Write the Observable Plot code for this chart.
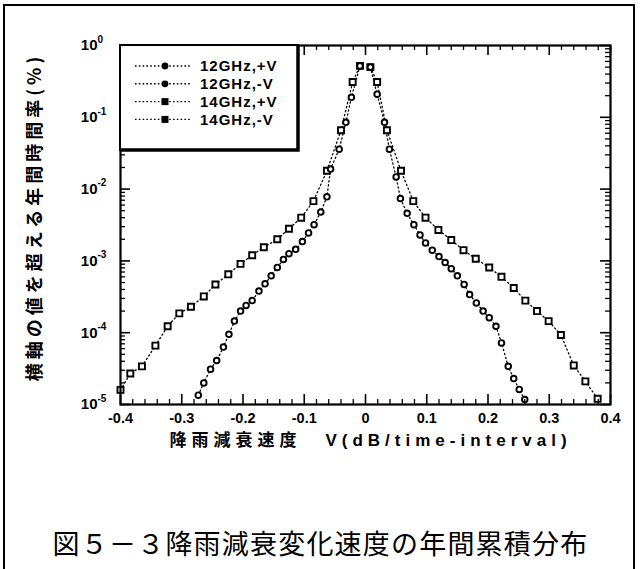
<!DOCTYPE html>
<html>
<head>
<meta charset="utf-8">
<script src="https://cdn.jsdelivr.net/npm/d3@7"></script>
<script src="https://cdn.jsdelivr.net/npm/@observablehq/plot@0.6"></script>
<style>
  html, body { margin: 0; padding: 0; background: #fff; }
  #wrap { position: relative; width: 641px; height: 569px; overflow: hidden; background: #fff; }
  #chart { position: absolute; left: 0; top: 0; }
  #border { position: absolute; left: 3px; top: 4px; width: 628px; height: 620px; border: 2px solid #000; pointer-events: none; }
  #caption { position: absolute; left: 0; top: 525px; width: 641px; text-align: center;
             font-family: "Noto Sans CJK JP", sans-serif; font-size: 27px; letter-spacing: 1.2px; line-height: 36px; color: #000; }
</style>
</head>
<body>
<div id="wrap">
  <div id="chart"></div>
  <div id="border"></div>
  <div id="caption">図５－３降雨減衰変化速度の年間累積分布</div>
</div>
<script>
// ---- data ----
const seriesNames = ["12GHz,+V", "12GHz,-V", "14GHz,+V", "14GHz,-V"];

const x12p = [0.008, 0.019, 0.031, 0.039, 0.050, 0.057, 0.068, 0.079, 0.089, 0.098, 0.109, 0.120, 0.130, 0.140, 0.150, 0.161, 0.170, 0.181, 0.192, 0.202, 0.213, 0.222, 0.233, 0.242, 0.251, 0.260];
const y12p = [0.50, 0.21, 8.5e-2, 3.6e-2, 1.48e-2, 7.4e-3, 4.6e-3, 3.2e-3, 2.3e-3, 1.78e-3, 1.41e-3, 1.15e-3, 9.5e-4, 7.8e-4, 6.2e-4, 4.7e-4, 3.4e-4, 2.6e-4, 2.0e-4, 1.62e-4, 1.23e-4, 7.2e-5, 3.4e-5, 2.3e-5, 1.62e-5, 1.17e-5];

const x12m = [-0.273, -0.264, -0.253, -0.243, -0.232, -0.223, -0.214, -0.204, -0.195, -0.185, -0.174, -0.164, -0.154, -0.144, -0.134, -0.125, -0.114, -0.103, -0.093, -0.084, -0.073, -0.063, -0.057, -0.043, -0.032, -0.023, -0.009];
const y12m = [1.35e-5, 2.0e-5, 3.1e-5, 4.1e-5, 6.3e-5, 9.5e-5, 1.45e-4, 2.0e-4, 2.4e-4, 2.8e-4, 3.8e-4, 4.8e-4, 6.2e-4, 8.1e-4, 1.05e-3, 1.26e-3, 1.45e-3, 1.86e-3, 2.45e-3, 3.2e-3, 4.8e-3, 7.8e-3, 1.9e-2, 3.6e-2, 8.5e-2, 0.19, 0.52];

const x14p = [0.008, 0.019, 0.035, 0.058, 0.078, 0.098, 0.119, 0.140, 0.160, 0.180, 0.202, 0.222, 0.242, 0.261, 0.280, 0.299, 0.319, 0.340, 0.359, 0.379];
const y14p = [0.50, 0.31, 6.6e-2, 1.8e-2, 6.8e-3, 4.0e-3, 2.7e-3, 1.95e-3, 1.41e-3, 1.07e-3, 8.1e-4, 6.0e-4, 4.2e-4, 2.8e-4, 2.0e-4, 1.45e-4, 9.3e-5, 3.5e-5, 2.1e-5, 1.2e-5];

const x14m = [-0.400, -0.384, -0.365, -0.343, -0.323, -0.304, -0.285, -0.264, -0.245, -0.224, -0.204, -0.185, -0.166, -0.144, -0.125, -0.105, -0.085, -0.063, -0.040, -0.021, -0.009];
const y14m = [1.6e-5, 2.7e-5, 3.4e-5, 6.6e-5, 1.23e-4, 1.86e-4, 2.3e-4, 3.2e-4, 4.7e-4, 6.5e-4, 9.1e-4, 1.2e-3, 1.55e-3, 2.0e-3, 2.8e-3, 4.0e-3, 6.8e-3, 1.8e-2, 6.6e-2, 0.31, 0.52];

const xTickValues = [-0.4, -0.3, -0.2, -0.1, 0, 0.1, 0.2, 0.3, 0.4];
const yTickValues = [1e-5, 1e-4, 1e-3, 1e-2, 1e-1, 1];

const yAxisLabel = "横軸の値を超える年間時間率(%)";
const xAxisLabelJa = "降雨減衰速度";
const xAxisLabelEn = "V(dB/time-interval)";

// ---- build ----
const rows = (xs, ys, s) => xs.map((x, i) => ({x, y: ys[i], s}));
const d12p = rows(x12p, y12p, seriesNames[0]);
const d12m = rows(x12m, y12m, seriesNames[1]);
const d14p = rows(x14p, y14p, seriesNames[2]);
const d14m = rows(x14m, y14m, seriesNames[3]);

const W = 641, H = 470;
const mL = 120, mR = 31, mT = 45, mB = 66;
const pW = W - mL - mR, pH = H - mT - mB;

const xMinor = d3.range(-20, 21).map(i => i / 50).filter(v => Math.abs(Math.round(v * 10) - v * 10) > 1e-6);
const yMinor = [];
for (let k = -5; k < 0; k++) for (let m = 2; m <= 9; m++) yMinor.push(m * Math.pow(10, k));

const lineOpts = {x: "x", y: "y", stroke: "black", strokeWidth: 1.3, strokeDasharray: "1.3,2.8"};
const circOpts = {x: "x", y: "y", r: 2.8, symbol: "circle", fill: "white", stroke: "black", strokeWidth: 1.9};
const sqOpts = {x: "x", y: "y", r: 3.4, symbol: "square", fill: "white", stroke: "black", strokeWidth: 1.9};

const chart = Plot.plot({
  width: W, height: H,
  marginLeft: mL, marginRight: mR, marginTop: mT, marginBottom: mB,
  style: {background: "transparent", fontFamily: "'Liberation Sans', Arial, sans-serif", color: "black", overflow: "visible"},
  x: {domain: [-0.4, 0.4], label: null, axis: null},
  y: {type: "log", domain: [1e-5, 1], label: null, axis: null},
  marks: [
    Plot.line(d12p, lineOpts),
    Plot.line(d12m, lineOpts),
    Plot.line(d14p, lineOpts),
    Plot.line(d14m, lineOpts),
    Plot.dot(d14p, sqOpts),
    Plot.dot(d14m, sqOpts),
    Plot.dot(d12p, circOpts),
    Plot.dot(d12m, circOpts),
    // inward ticks on all four sides
    Plot.tickX(xTickValues, {x: d => d, insetTop: pH - 10, stroke: "black", strokeWidth: 1.6}),
    Plot.tickX(xMinor, {x: d => d, insetTop: pH - 5, stroke: "black", strokeWidth: 1.3}),
    Plot.tickX(xTickValues, {x: d => d, insetBottom: pH - 10, stroke: "black", strokeWidth: 1.6}),
    Plot.tickX(xMinor, {x: d => d, insetBottom: pH - 5, stroke: "black", strokeWidth: 1.3}),
    Plot.tickY(yTickValues, {y: d => d, insetRight: pW - 10, stroke: "black", strokeWidth: 1.6}),
    Plot.tickY(yMinor, {y: d => d, insetRight: pW - 5, stroke: "black", strokeWidth: 1.3}),
    Plot.tickY(yTickValues, {y: d => d, insetLeft: pW - 10, stroke: "black", strokeWidth: 1.6}),
    Plot.tickY(yMinor, {y: d => d, insetLeft: pW - 5, stroke: "black", strokeWidth: 1.3}),
    Plot.frame({stroke: "black", strokeWidth: 2.2}),
    // axes labels
    Plot.axisX(xTickValues, {tickSize: 0, tickPadding: 8, tickFormat: d => d === 0 ? "0" : String(d),
      fontSize: 14.5, fontWeight: "bold", label: null}),
    Plot.text(yTickValues, {y: d => d, frameAnchor: "left", dx: -23, text: () => "10", textAnchor: "end",
      fontSize: 15, fontWeight: "bold", fill: "black"}),
    Plot.text(yTickValues, {y: d => d, frameAnchor: "left", dx: -23, dy: -6, text: d => String(Math.round(Math.log10(d))),
      textAnchor: "start", fontSize: 10, fontWeight: "bold", fill: "black"}),
    Plot.text([yAxisLabel], {text: d => d, frameAnchor: "left", textAnchor: "middle", dx: -85, dy: -8, rotate: -90,
      fontSize: 18, fontWeight: "bold", fontFamily: "'Noto Sans CJK JP', sans-serif", fill: "black", ariaLabel: () => "ylabel"}),
    Plot.text([xAxisLabelJa], {text: d => d, frameAnchor: "bottom", textAnchor: "middle", dx: -130, dy: 36, lineAnchor: "middle",
      fontSize: 17, fontWeight: "bold", fontFamily: "'Noto Sans CJK JP', sans-serif", fill: "black", ariaLabel: () => "xlabelja"}),
    Plot.text([xAxisLabelEn], {text: d => d, frameAnchor: "bottom", textAnchor: "middle", dx: 83, dy: 36, lineAnchor: "middle",
      fontSize: 17, fontWeight: "bold", fill: "black", ariaLabel: () => "xlabelen"})
  ]
});

const svg = d3.select(chart);
svg.selectAll("[aria-label='ylabel']").style("letter-spacing", "4px");
svg.selectAll("[aria-label='xlabelja']").style("letter-spacing", "5px");
svg.selectAll("[aria-label='xlabelen']").style("letter-spacing", "5px");

// ---- legend (drawn into the same SVG) ----
const lg = svg.append("g").attr("class", "legend").attr("text-anchor", "start");
const bx0 = mL, by0 = mT, bx1 = 298, by1 = 150;
lg.append("rect").attr("x", bx0).attr("y", by0).attr("width", bx1 - bx0).attr("height", by1 - by0)
  .attr("fill", "white").attr("stroke", "black").attr("stroke-width", 2);
lg.append("path").attr("d", `M${bx1},${by0} V${by1} H${bx0}`).attr("fill", "none")
  .attr("stroke", "black").attr("stroke-width", 3.5);
seriesNames.forEach((name, i) => {
  const yy = 66 + i * 17.8;
  lg.append("line").attr("x1", 135).attr("x2", 192).attr("y1", yy).attr("y2", yy)
    .attr("stroke", "black").attr("stroke-width", 1.4).attr("stroke-dasharray", "1.6,2.2");
  if (i < 2) {
    lg.append("circle").attr("cx", 165).attr("cy", yy).attr("r", 3.4).attr("fill", "black");
  } else {
    lg.append("rect").attr("x", 161.5).attr("y", yy - 3.5).attr("width", 7).attr("height", 7).attr("fill", "black");
  }
  lg.append("text").attr("x", 200).attr("y", yy).attr("dy", "0.35em").attr("text-anchor", "start")
    .attr("font-family", "'Liberation Sans', Arial, sans-serif").attr("font-weight", "bold")
    .attr("font-size", 15).style("letter-spacing", "1px").attr("fill", "black").text(name);
});
document.getElementById("chart").appendChild(chart);
</script>
</body>
</html>
